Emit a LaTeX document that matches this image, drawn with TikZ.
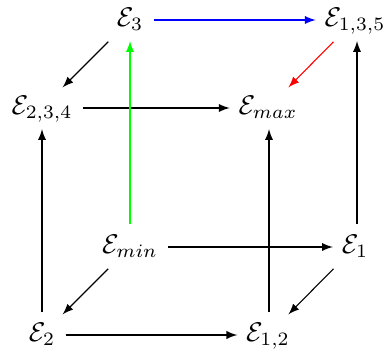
\documentclass[tikz,border=0pt]{standalone}
\usetikzlibrary{arrows}
\begin{document}
\begin{tikzpicture}[x=0.37pt,y=-0.37pt,
  obj/.style={inner sep=2.5pt,text height=7pt,text depth=2pt},
  arr/.style={-latex,line width=0.4pt,shorten <=1.2pt,shorten >=0.6pt}]
\useasboundingbox (0,0) rectangle (387,351);
\node[obj] (e3)   at (130,20)  {$\mathcal{E}_3$};
\node[obj] (e135) at (355,20)  {$\mathcal{E}_{1,3,5}$};
\node[obj] (e234) at (42,108)  {$\mathcal{E}_{2,3,4}$};
\node[obj] (emax) at (268,108) {$\mathcal{E}_{max}$};
\node[obj] (emin) at (130,247) {$\mathcal{E}_{min}$};
\node[obj] (e1)   at (355,247) {$\mathcal{E}_1$};
\node[obj] (e2)   at (42,335)  {$\mathcal{E}_2$};
\node[obj] (e12)  at (268,335) {$\mathcal{E}_{1,2}$};
\draw[arr,blue] (e3) -- (e135);
\draw[arr] (e3) -- (e234);
\draw[arr,red] (e135) -- (emax);
\draw[arr] (e234) -- (emax);
\draw[arr,green] (emin) -- (e3);
\draw[arr] (emin) -- (e1);
\draw[arr] (emin) -- (e2);
\draw[arr] (e1.north -| 357,0) -- (e135.south -| 357,0);
\draw[arr] (e1) -- (e12);
\draw[arr] (e2) -- (e234);
\draw[arr] (e2) -- (e12);
\draw[arr] (e12.north -| 269,0) -- (emax.south -| 269,0);
\end{tikzpicture}
\end{document}
